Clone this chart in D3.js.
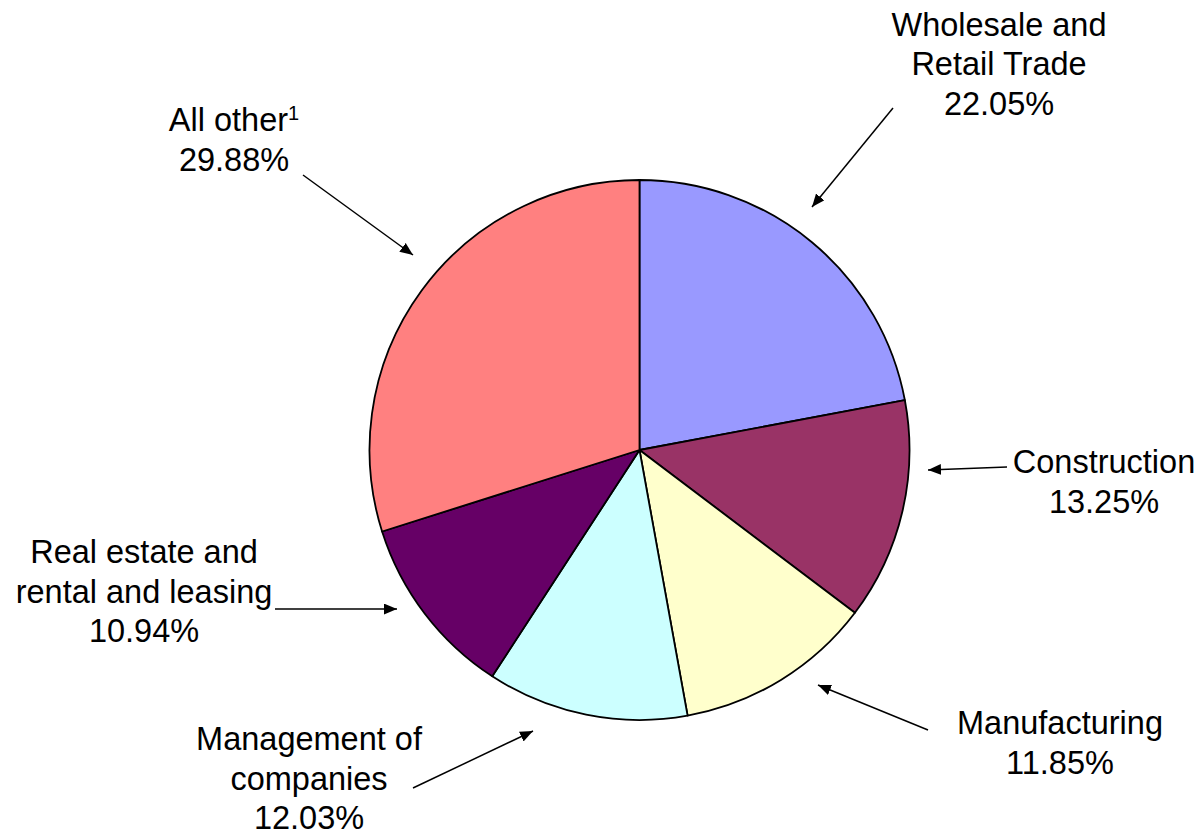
<!DOCTYPE html>
<html>
<head>
  <meta charset="utf-8">
  <script src="https://d3js.org/d3.v7.min.js"></script>
  <style>
    body { margin: 0; background: #fff; }
  </style>
</head>
<body>
<div id="vis"></div>
<script>
  // slices, clockwise from 12 o'clock
  var categories = ['Wholesale and Retail Trade', 'Construction', 'Manufacturing',
    'Management of companies', 'Real estate and rental and leasing', 'All other'];
  var shares = [22.05, 13.25, 11.85, 12.03, 10.94, 29.88];
  var colors = ['#9999FF', '#993366', '#FFFFCC', '#CCFFFF', '#660066', '#FF8080'];

  // label lines per slice (last line is the percent)
  var labelLines = [
    ['Wholesale and', 'Retail Trade'],
    ['Construction'],
    ['Manufacturing'],
    ['Management of', 'companies'],
    ['Real estate and', 'rental and leasing'],
    ['All other']
  ];

  var width = 1203, height = 836;
  var cx = 639.5, cy = 450, radius = 270;
  var lineH = 39.5;

  // label placement and arrow annotations (layout only)
  var labelPos = [
    { x: 999, y: 35.5, from: [893, 108], to: [812, 207] },
    { x: 1104, y: 473, from: [1007, 467], to: [928, 470] },
    { x: 1060, y: 734, from: [928, 730], to: [818, 685] },
    { x: 309, y: 750, from: [413, 788], to: [533, 731] },
    { x: 144, y: 563, from: [275, 609], to: [397, 609] },
    { x: 234, y: 131, from: [303, 175], to: [413, 255] }
  ];

  var data = categories.map(function (c, i) {
    return { name: c, value: shares[i], color: colors[i], lines: labelLines[i], pos: labelPos[i] };
  });

  var svg = d3.select('#vis')
    .append('svg')
    .attr('width', width)
    .attr('height', height);

  svg.append('defs').append('marker')
    .attr('id', 'head')
    .attr('viewBox', '0 0 12 10')
    .attr('refX', 12)
    .attr('refY', 5)
    .attr('markerUnits', 'userSpaceOnUse')
    .attr('markerWidth', 13)
    .attr('markerHeight', 11)
    .attr('orient', 'auto')
    .append('path')
    .attr('d', 'M0,0 L12,5 L0,10 Z')
    .attr('fill', '#000');

  var pie = d3.pie()
    .sort(null)
    .value(function (d) { return d.value; });

  var arc = d3.arc()
    .innerRadius(0)
    .outerRadius(radius);

  var g = svg.append('g')
    .attr('transform', 'translate(' + cx + ',' + cy + ')');

  g.selectAll('path')
    .data(pie(data))
    .enter()
    .append('path')
    .attr('d', arc)
    .attr('fill', function (d) { return d.data.color; })
    .attr('stroke', '#000')
    .attr('stroke-width', 1.8)
    .attr('stroke-linejoin', 'round');

  // arrows
  svg.selectAll('line.arrow')
    .data(data)
    .enter()
    .append('line')
    .attr('class', 'arrow')
    .attr('x1', function (d) { return d.pos.from[0]; })
    .attr('y1', function (d) { return d.pos.from[1]; })
    .attr('x2', function (d) { return d.pos.to[0]; })
    .attr('y2', function (d) { return d.pos.to[1]; })
    .attr('stroke', '#000')
    .attr('stroke-width', 1.5)
    .attr('marker-end', 'url(#head)');

  // labels
  var labels = svg.selectAll('text.label')
    .data(data)
    .enter()
    .append('text')
    .attr('class', 'label')
    .attr('text-anchor', 'middle')
    .attr('font-family', 'Liberation Sans, Arial, sans-serif')
    .attr('font-size', 32.5)
    .attr('fill', '#000');

  labels.each(function (d) {
    var t = d3.select(this);
    var lines = d.lines.concat([d.value.toFixed(2) + '%']);
    lines.forEach(function (line, i) {
      var ts = t.append('tspan')
        .attr('x', d.pos.x)
        .attr('y', d.pos.y + i * lineH)
        .text(line);
      if (d.name === 'All other' && i === 0) {
        t.append('tspan')
          .attr('font-size', 20)
          .attr('dy', -11)
          .text('1');
      }
    });
  });
</script>
</body>
</html>
